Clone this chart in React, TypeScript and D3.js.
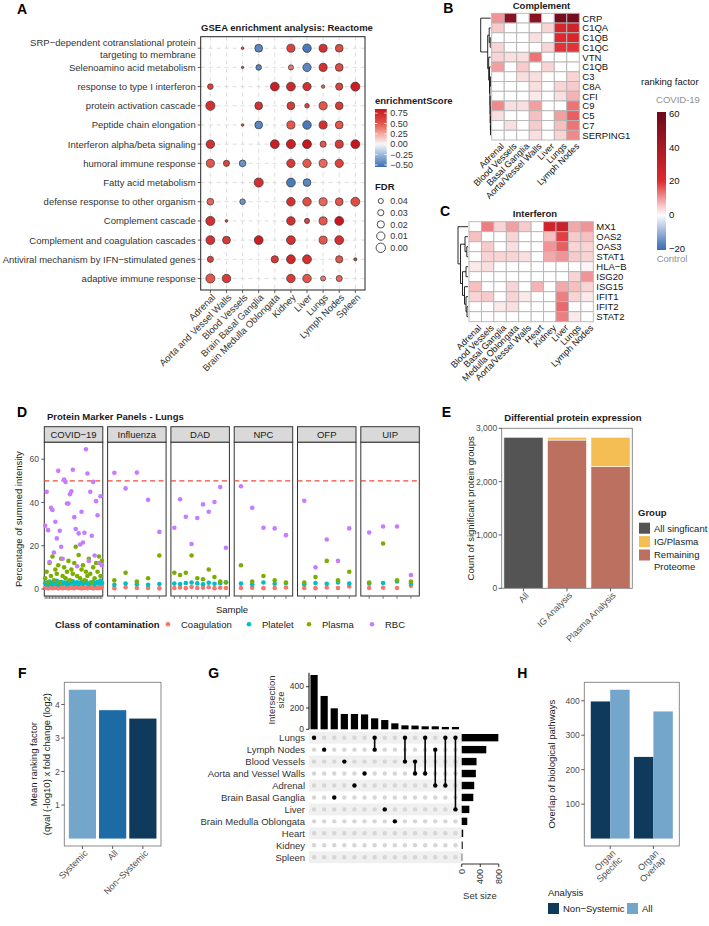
import React from "react";
import * as d3 from "d3";

const FONT = "'Liberation Sans', Arial, Helvetica, sans-serif";
const INK = "#1a1a1a";
const AX = "#333333";
const TK = "#4d4d4d";

// ================= Panel A data =================
const gseaPathways = [
  "SRP−dependent cotranslational protein|targeting to membrane",
  "Selenoamino acid metabolism",
  "response to type I interferon",
  "protein activation cascade",
  "Peptide chain elongation",
  "Interferon alpha/beta signaling",
  "humoral immune response",
  "Fatty acid metabolism",
  "defense response to other organism",
  "Complement cascade",
  "Complement and coagulation cascades",
  "Antiviral mechanism by IFN−stimulated genes",
  "adaptive immune response",
];
const gseaTissues = [
  "Adrenal", "Aorta and Vessel Walls", "Blood Vessels", "Brain Basal Ganglia",
  "Brain Medulla Oblongata", "Kidney", "Liver", "Lungs", "Lymph Nodes", "Spleen",
];
const _ = null;
const gseaES: (number | null)[][] = [
  [_, _, 0.5, -0.45, _, 0.6, -0.5, 0.7, 0.55, _],
  [_, _, 0.6, -0.45, _, 0.4, -0.45, 0.7, 0.55, _],
  [0.6, _, _, _, 0.8, 0.75, 0.7, 0.45, 0.6, 0.8],
  [0.7, _, _, 0.7, _, 0.65, 0.6, 0.5, 0.65, _],
  [_, _, 0.5, -0.45, _, 0.5, -0.5, 0.7, 0.5, _],
  [0.7, _, _, _, 0.8, 0.8, 0.85, 0.5, 0.65, 0.85],
  [0.5, 0.6, -0.4, _, _, 0.65, 0.5, 0.45, 0.6, _],
  [_, _, _, 0.7, _, -0.5, -0.45, _, _, _],
  [0.45, _, -0.4, _, _, 0.7, 0.55, 0.45, 0.5, 0.55],
  [0.7, 0.6, _, _, _, 0.7, 0.6, 0.5, 0.85, _],
  [0.7, 0.65, _, 0.8, _, 0.7, _, 0.5, 0.7, _],
  [0.6, _, _, _, 0.65, 0.75, 0.7, _, 0.5, 0.65],
  [0.5, 0.65, _, _, _, 0.65, 0.5, 0.4, 0.45, _],
];
const gseaFDR: (number | null)[][] = [
  [_, _, 0.063, 0.015, _, 0.012, 0.008, 0.012, 0.015, _],
  [_, _, 0.065, 0.035, _, 0.04, 0.01, 0.012, 0.015, _],
  [0.035, _, _, _, 0.005, 0.005, 0.01, 0.055, 0.02, 0.003],
  [0.002, _, _, 0.015, _, 0.015, 0.045, 0.012, 0.015, _],
  [_, _, 0.063, 0.015, _, 0.012, 0.008, 0.012, 0.015, _],
  [0.008, _, _, _, 0.005, 0.003, 0.005, 0.03, 0.012, 0.005],
  [0.012, 0.03, 0.025, _, _, 0.01, 0.01, 0.012, 0.01, _],
  [_, _, _, 0.002, _, 0.005, 0.015, _, _, _],
  [0.025, _, 0.035, _, _, 0.008, 0.008, 0.012, 0.015, 0.005],
  [0.003, 0.063, _, _, _, 0.008, 0.04, 0.012, 0.005, _],
  [0.005, 0.015, _, 0.005, _, 0.005, _, 0.012, 0.005, _],
  [0.03, _, _, _, 0.02, 0.005, 0.005, _, 0.02, 0.058],
  [0.003, 0.008, _, _, _, 0.008, 0.008, 0.04, 0.03, _],
];
const esTicks = [0.75, 0.5, 0.25, 0, -0.25, -0.5];
const esTickLabels = ["0.75", "0.50", "0.25", "0.00", "−0.25", "−0.50"];
const fdrKeys = [0.04, 0.03, 0.02, 0.01, 0.0];
const fdrKeyLabels = ["0.04", "0.03", "0.02", "0.01", "0.00"];

// ================= Panel B / C data =================
const complementGenes = ["CRP", "C1QA", "C1QB", "C1QC", "VTN", "C1QB", "C3", "C8A", "CFI", "C9", "C5", "C7", "SERPING1"];
const complementTissues = ["Adrenal", "Blood Vessels", "Basal Ganglia", "Aorta/Vessel Walls", "Liver", "Lungs", "Lymph Nodes"];
const complementValues = [
  [10, 50, 0, 50, 0, 57, 57],
  [5, 0, 0, 0, 4, 24, 27],
  [0, 0, 0, 3, 0, 21, 23],
  [4, 0, 0, 0, 4, 19, 19],
  [4, 3, 3, 13, 0, 0, 0],
  [9, 0, 5, 0, 4, 0, 0],
  [0, 0, 3, 3, 0, 0, 4],
  [0, 0, 0, 3, 0, 4, 5],
  [0, 0, 0, 2, 0, 3, 7],
  [11, 3, 3, 9, 0, 0, 13],
  [3, 0, 0, 6, 0, 9, 15],
  [0, 3, 0, 5, 0, 6, 13],
  [0, 0, 0, 3, 0, 4, 11],
];
type Tree = number | [number, Tree, Tree];
const complementTree: Tree = [1.0, 0, [0.3, [0.15, 1, [0.05, 2, 3]], [0.2, 4, [0.12, 5, [0.08, [0.03, 6, 7], [0.06, 8, [0.05, 9, [0.03, 10, [0.02, 11, 12]]]]]]]]];

const ifnGenes = ["MX1", "OAS2", "OAS3", "STAT1", "HLA−B", "ISG20", "ISG15", "IFIT1", "IFIT2", "STAT2"];
const ifnTissues = ["Adrenal", "Blood Vessels", "Basal Ganglia", "Medulla Oblongata", "Aorta/Vessel Walls", "Heart", "Kidney", "Liver", "Lungs", "Lymph Nodes"];
const ifnValues = [
  [0, 12, 4, 9, 5, 0, 26, 28, 8, 10],
  [6, 0, 0, 4, 0, 0, 6, 18, 5, 6],
  [0, 5, 0, 3, 0, 0, 10, 15, 4, 4],
  [0, 4, 4, 4, 3, 0, 8, 10, 5, 4],
  [2, 3, 0, 0, 0, 0, 0, 0, 0, 1],
  [0, 0, 0, 0, 0, 0, 0, 0, 4, 10],
  [6, 0, 0, 4, 0, 7, 0, 8, 6, 4],
  [4, 5, 0, 4, 2, 0, 0, 12, 4, 2],
  [0, 0, 2, 3, 0, 0, 0, 14, 0, 0],
  [0, 0, 0, 0, 0, 0, 0, 12, 2, 0],
];
const ifnTree: Tree = [1.0, 0, [0.75, [0.3, 1, [0.12, 2, 3]], [0.55, [0.2, 4, 5], [0.35, 6, [0.2, 7, [0.1, 8, 9]]]]]];
const rankTicks = [60, 40, 20, 0, -20];
const rankTickLabels = ["60", "40", "20", "0", "−20"];

// ================= Panel D data =================
const dPanels = ["COVID−19", "Influenza", "DAD", "NPC", "OFP", "UIP"];
const rbcCovid = [29.2, 44.9, 27.2, 12.5, 37.5, 36.5, 16.9, 31.1, 23.4, 54.6, 26.9, 19.5, 14, 50.6, 49.5, 39.5, 39.5, 43.8, 45.2, 55.1, 33.2, 27.7, 10.5, 25.7, 20.6, 35.7, 21.5, 26.0, 64.6, 53.4, 13, 44.9, 24.6, 49.5, 15.5, 40.6, 34.1, 12, 42.9, 11];
const plasmaCovid = [5, 8, 3, 12, 6, 15, 4, 9, 7, 11, 3, 14, 6, 10, 5, 8, 13, 4, 9, 7, 12, 19.5, 6, 15.7, 5, 9, 11, 4, 8, 6, 14, 7, 3, 10, 5, 12, 8, 15, 6, 13];
const plateletCovid = [2.5, 3, 2, 3.5, 2.8, 2.2, 3, 2.5, 3.8, 2, 2.6, 3.2, 2.4, 3, 2.7, 2.1, 3.4, 2.5, 2.9, 3.6, 2.3, 2.8, 3.1, 2.2, 2.6, 3.3, 2.4, 2.9, 3.7, 2.5, 2.2, 3, 2.6, 3.4, 2.1, 2.8, 3.2, 2.5, 3.9, 2.7];
const coagCovid = [0.5, 0.8, 0.3, 0.6, 0.9, 0.4, 0.7, 0.5, 1.0, 0.3, 0.6, 0.8, 0.4, 0.7, 0.5, 0.9, 0.3, 0.6, 0.8, 0.5, 0.4, 0.7, 1.1, 0.5, 0.6, 0.3, 0.8, 0.5, 0.7, 0.4, 0.9, 0.6, 0.5, 0.3, 0.8, 0.6, 0.4, 0.7, 0.5, 0.9];
const rbcFlu = [53.7, 46.5, 53.8, 41.2, 26.4];
const plasmaFlu = [4, 7.5, 3.5, 5, 15.5];
const plateletFlu = [2, 2.5, 2.2, 2, 2.3];
const coagFlu = [0.4, 0.8, 0.5, 0.5, 0.3];
const rbcDad = [28.3, 41.5, 33.4, 20.8, 32.8, 39.1, 35.7, 40.2, 47.1, 19.1];
const plasmaDad = [7.5, 6.5, 7.5, 15.5, 5, 4.5, 9, 5.5, 3.5, 3];
const plateletDad = [2.5, 2.3, 2.8, 3, 2.6, 2.2, 2.9, 2.4, 2.7, 3.1];
const coagDad = [0.5, 0.7, 0.4, 0.9, 0.5, 0.6, 0.8, 0.4, 0.6, 0.5];
const rbcNpc = [47.5, 37.5, 28.3, 28, 24.9];
const plasmaNpc = [11, 3.5, 6, 4, 3];
const plateletNpc = [2.5, 2.2, 3, 2.4, 2.8];
const coagNpc = [0.5, 0.6, 0.4, 0.5, 0.7];
const rbcOfp = [40.8, 10, 22.9, 13, 28];
const plasmaOfp = [3, 5.5, 13, 4, 8];
const plateletOfp = [2.2, 2.8, 2.4, 3, 2.5];
const coagOfp = [0.5, 0.4, 0.7, 0.5, 1.2];
const rbcUip = [26.1, 28.9, 28.9, 6.5];
const plasmaUip = [3, 21, 4, 3.5];
const plateletUip = [2.5, 2.8, 3.5, 2.6];
const coagUip = [0.5, 0.6, 0.5, 1.5];
const contamClasses = ["Coagulation", "Platelet", "Plasma", "RBC"];
const contamColors = ["#F8766D", "#00BFC4", "#7CAE00", "#C77CFF"];
const dYTicks = [0, 20, 40, 60];
const rbcThreshold = 50;

// ================= Panel E data =================
const deCategories = ["All", "IG Analysis", "Plasma Analysis"];
const deAllSig = [2832, 0, 0];
const deIgPlasma = [0, 52, 552];
const deRemaining = [0, 2780, 2280];
const deGroups = ["All singficant", "IG/Plasma", "Remaining|Proteome"];
const deColors = ["#545454", "#F5BE55", "#BC7060"];
const deTicks = [0, 1000, 2000, 3000];
const deTickLabels = ["0", "1,000", "2,000", "3,000"];

// ================= Panel F data =================
const fCategories = ["Systemic", "All", "Non−Systemic"];
const fValues = [4.44, 3.83, 3.58];
const fColors = ["#74A5CB", "#1C6AA6", "#0F3A5B"];
const fTicks = [1, 2, 3, 4];

// ================= Panel G data =================
const upsetSets = ["Lungs", "Lymph Nodes", "Blood Vessels", "Aorta and Vessel Walls", "Adrenal", "Brain Basal Ganglia", "Liver", "Brain Medulla Oblongata", "Heart", "Kidney", "Spleen"];
const setSizes = [790, 530, 320, 305, 270, 250, 165, 120, 32, 22, 12];
const intersections = [
  ["Lungs"], ["Lymph Nodes"], ["Brain Basal Ganglia"], ["Blood Vessels"], ["Adrenal"],
  ["Aorta and Vessel Walls"], ["Lungs", "Lymph Nodes"], ["Liver"], ["Brain Medulla Oblongata"],
  ["Lungs", "Blood Vessels"], ["Blood Vessels", "Aorta and Vessel Walls"], ["Lungs", "Aorta and Vessel Walls"],
  ["Lymph Nodes", "Adrenal"], ["Lungs", "Adrenal"], ["Lungs", "Liver"],
];
const intersectionSizes = [510, 313, 197, 144, 144, 140, 103, 87, 56, 37, 35, 28, 28, 22, 22];
const gTicks = [0, 200, 400];
const setSizeTicks = [0, 400, 800];

// ================= Panel H data =================
const hGroups = ["Organ|Specific", "Organ|Overlap"];
const hAnalyses = ["Non−Systemic", "All"];
const hNonSystemic = [398, 237];
const hAll = [432, 369];
const hColors = ["#0F3A5B", "#74A5CB"];
const hTicks = [100, 200, 300, 400];

// ================= helpers =================
const esColor = d3.scaleLinear<string>()
  .domain([-0.55, -0.25, 0, 0.25, 0.5, 0.85])
  .range(["#3b6db4", "#9ab8dc", "#f8f8f8", "#f3a89f", "#e2564b", "#c8161d"]);
const rfColor = d3.scaleLinear<string>()
  .domain([-20, 0, 20, 60])
  .range(["#3b6db5", "#ffffff", "#e0292e", "#6e0a1c"]).clamp(true);

function PanelLetter({ x, y, t }: { x: number; y: number; t: string }) {
  return <text x={x} y={y} fontSize={14} fontWeight="bold" fill="#000">{t}</text>;
}

function RotLabel({ x, y, text, fs = 9.5, fill = TK }: any) {
  const lines = String(text).split("|");
  return (
    <text transform={`translate(${x},${y}) rotate(-45)`} textAnchor="end" fontSize={fs} fill={fill}>
      {lines.map((l, i) => (
        <tspan key={i} x={0} dy={i === 0 ? "0.75em" : "1.05em"}>{l}</tspan>
      ))}
    </text>
  );
}

// ================= Panel A =================
function PanelA() {
  const L = 200.7, R = 365, T = 36.7, B = 290;
  const x = d3.scalePoint<string>().domain(gseaTissues).range([L, R]).padding(0.6);
  const y = d3.scalePoint<string>().domain(gseaPathways).range([T, B]).padding(0.6);
  const rad = d3.scaleLinear().domain([0.065, 0]).range([1.2, 4.7]);
  const dots: any[] = [];
  gseaES.forEach((row, i) => row.forEach((v, j) => {
    if (v !== null) dots.push({ cx: x(gseaTissues[j])!, cy: y(gseaPathways[i])!, es: v, fdr: gseaFDR[i][j] as number });
  }));
  const bar = { x: 375, w: 11.7, top: 109, bottom: 167 };
  const by = d3.scaleLinear().domain([-0.55, 0.85]).range([bar.bottom, bar.top]);
  const stops = d3.range(0, 1.0001, 0.05);
  const fdrY = d3.scalePoint<string>().domain(fdrKeyLabels).range([201, 247.8]);
  return (
    <g>
      <defs>
        <linearGradient id="esGrad" x1="0" y1="1" x2="0" y2="0">
          {stops.map((s, i) => <stop key={i} offset={s} stopColor={esColor(-0.55 + s * 1.4)} />)}
        </linearGradient>
      </defs>
      <PanelLetter x={17} y={13.5} t="A" />
      <text x={287} y={30.5} textAnchor="middle" fontSize={9.5} fontWeight="bold" fill={INK}>GSEA enrichment analysis: Reactome</text>
      <rect x={L} y={T} width={R - L} height={B - T} fill="#fff" />
      {gseaTissues.map((t) => (
        <line key={t} x1={x(t)} x2={x(t)} y1={T} y2={B} stroke="#cfcfcf" strokeWidth={0.7} strokeDasharray="4,4" />
      ))}
      {gseaPathways.map((p) => (
        <line key={p} x1={L} x2={R} y1={y(p)} y2={y(p)} stroke="#cfcfcf" strokeWidth={0.7} strokeDasharray="4,4" />
      ))}
      <rect x={L} y={T} width={R - L} height={B - T} fill="none" stroke="#222" strokeWidth={1} />
      {gseaPathways.map((p) => {
        const lines = p.split("|");
        const cy = y(p)!;
        return (
          <g key={p}>
            <line x1={L - 3} x2={L} y1={cy} y2={cy} stroke={AX} strokeWidth={0.8} />
            <text x={L - 5} y={cy} textAnchor="end" fontSize={9.5} fill={AX}>
              {lines.map((l, i) => (
                <tspan key={i} x={L - 5} y={cy + 3.4 + (i - (lines.length - 1) / 2) * 12}>{l}</tspan>
              ))}
            </text>
          </g>
        );
      })}
      {gseaTissues.map((t) => (
        <g key={t}>
          <line x1={x(t)} x2={x(t)} y1={B} y2={B + 3} stroke={AX} strokeWidth={0.8} />
          <RotLabel x={x(t)! + 0.5} y={B + 3} text={t} fs={9.5} fill={AX} />
        </g>
      ))}
      {dots.map((d, i) => (
        <circle key={i} cx={d.cx} cy={d.cy} r={rad(d.fdr)} fill={esColor(d.es)} stroke="#333" strokeWidth={0.7} />
      ))}
      <text x={bar.x} y={103.5} fontSize={9.5} fontWeight="bold" fill={INK}>enrichmentScore</text>
      <rect x={bar.x} y={bar.top} width={bar.w} height={bar.bottom - bar.top} fill="url(#esGrad)" />
      {esTicks.map((t, i) => (
        <g key={t}>
          <line x1={bar.x} x2={bar.x + 2.5} y1={by(t)} y2={by(t)} stroke="#fff" strokeWidth={0.8} />
          <line x1={bar.x + bar.w - 2.5} x2={bar.x + bar.w} y1={by(t)} y2={by(t)} stroke="#fff" strokeWidth={0.8} />
          <text x={bar.x + bar.w + 3.5} y={by(t) + 3.2} fontSize={9} fill={AX}>{esTickLabels[i]}</text>
        </g>
      ))}
      <text x={bar.x} y={190} fontSize={9.5} fontWeight="bold" fill={INK}>FDR</text>
      {fdrKeys.map((f, i) => (
        <g key={i}>
          <circle cx={bar.x + 5.8} cy={fdrY(fdrKeyLabels[i])} r={rad(f)} fill="#fff" stroke="#222" strokeWidth={0.8} />
          <text x={bar.x + bar.w + 3.5} y={fdrY(fdrKeyLabels[i])! + 3.2} fontSize={9} fill={AX}>{fdrKeyLabels[i]}</text>
        </g>
      ))}
    </g>
  );
}

// ================= Heatmaps =================
function dendro(node: Tree, yLeaf: (i: number) => number, xH: (h: number) => number, segs: number[][]): { x: number; y: number } {
  if (typeof node === "number") return { x: xH(0), y: yLeaf(node) };
  const [h, a, b] = node;
  const A = dendro(a, yLeaf, xH, segs);
  const Bn = dendro(b, yLeaf, xH, segs);
  const xx = xH(h);
  segs.push([xx, A.y, xx, Bn.y]);
  segs.push([xx, A.y, A.x, A.y]);
  segs.push([xx, Bn.y, Bn.x, Bn.y]);
  return { x: xx, y: (A.y + Bn.y) / 2 };
}

function Heatmap({ rows, cols, values, tree, L, R, T, B, title, titleX, titleY, id }: any) {
  const x = d3.scaleBand<string>().domain(cols.map((_: any, i: number) => String(i))).range([L, R]);
  const y = d3.scaleBand<string>().domain(rows.map((_: any, i: number) => String(i))).range([T, B]);
  const segs: number[][] = [];
  const xH = d3.scaleLinear().domain([0, 1]).range([L - 1, L - 11]);
  dendro(tree, (i) => y(String(i))! + y.bandwidth() / 2, (h) => xH(h), segs);
  return (
    <g>
      <text x={titleX} y={titleY} textAnchor="middle" fontSize={9.5} fontWeight="bold" fill={INK}>{title}</text>
      {values.map((row: number[], i: number) => row.map((v: number, j: number) => (
        <rect key={`${id}${i}-${j}`} x={x(String(j))} y={y(String(i))} width={x.bandwidth()} height={y.bandwidth()}
          fill={rfColor(v)} stroke="#b5b5b5" strokeWidth={0.9} />
      )))}
      {rows.map((r: string, i: number) => (
        <text key={i} x={R + 3} y={y(String(i))! + y.bandwidth() / 2 + 3.4} fontSize={9.5} fill="#111">{r}</text>
      ))}
      {cols.map((c: string, j: number) => (
        <RotLabel key={j} x={x(String(j))! + x.bandwidth() / 2 + 2} y={B + 2} text={c} fs={9} fill="#111" />
      ))}
      {segs.map((s, i) => (
        <line key={i} x1={s[0]} y1={s[1]} x2={s[2]} y2={s[3]} stroke="#111" strokeWidth={0.9} />
      ))}
    </g>
  );
}

function RankLegend() {
  const bx = 657, bw = 9;
  const yy = d3.scaleLinear().domain([-21, 61]).range([250, 112]);
  const stops = d3.range(0, 1.0001, 0.05);
  return (
    <g>
      <defs>
        <linearGradient id="rfGrad" x1="0" y1="1" x2="0" y2="0">
          {stops.map((s, i) => <stop key={i} offset={s} stopColor={rfColor(-21 + s * 82)} />)}
        </linearGradient>
      </defs>
      <text x={641} y={85} fontSize={9.5} fill="#111">ranking factor</text>
      <text x={678} y={103} textAnchor="middle" fontSize={9.5} fill="#8f8f8f">COVID-19</text>
      <rect x={bx} y={yy(61)} width={bw} height={yy(-21) - yy(61)} fill="url(#rfGrad)" />
      {rankTicks.map((t, i) => (
        <text key={t} x={bx + bw + 3} y={yy(t) + 3.4} fontSize={9.5} fill="#111">{rankTickLabels[i]}</text>
      ))}
      <text x={672} y={262} textAnchor="middle" fontSize={9.5} fill="#8f8f8f">Control</text>
    </g>
  );
}

// ================= Panel D =================
function PanelD() {
  const facet = d3.scaleBand<string>().domain(dPanels).range([44.3, 419.3]).paddingInner(0.076);
  const y = d3.scaleLinear().domain([-3.23, 67.8]).range([596, 442.3]);
  const stripT = 426.7, stripB = 442.3;
  const byClass = [
    [coagCovid, coagFlu, coagDad, coagNpc, coagOfp, coagUip],
    [plateletCovid, plateletFlu, plateletDad, plateletNpc, plateletOfp, plateletUip],
    [plasmaCovid, plasmaFlu, plasmaDad, plasmaNpc, plasmaOfp, plasmaUip],
    [rbcCovid, rbcFlu, rbcDad, rbcNpc, rbcOfp, rbcUip],
  ];
  const legendX = d3.scaleOrdinal<string, number>().domain(contamClasses).range([168, 249, 309, 372]);
  return (
    <g>
      <PanelLetter x={17} y={416.7} t="D" />
      <text x={47} y={420} fontSize={9.5} fontWeight="bold" fill={INK}>Protein Marker Panels - Lungs</text>
      {dPanels.map((p, pi) => {
        const x0 = facet(p)!, x1 = x0 + facet.bandwidth();
        const n = byClass[3][pi].length;
        const sx = d3.scalePoint<number>().domain(d3.range(n)).range([x0, x1]).padding(0.6);
        return (
          <g key={p}>
            <rect x={x0} y={stripT} width={x1 - x0} height={stripB - stripT} fill="#d9d9d9" stroke="#333" strokeWidth={1} />
            <text x={(x0 + x1) / 2} y={(stripT + stripB) / 2 + 3.4} textAnchor="middle" fontSize={9.5} fill="#1a1a1a">{p}</text>
            <rect x={x0} y={stripB} width={x1 - x0} height={596 - stripB} fill="#fff" stroke="#333" strokeWidth={1} />
            <line x1={x0} x2={x1} y1={y(rbcThreshold)} y2={y(rbcThreshold)} stroke="#EE4B3B" strokeWidth={1.2} strokeDasharray="5,3.5" />
            {d3.range(n).map((k) => (
              <line key={k} x1={sx(k)} x2={sx(k)} y1={596} y2={599} stroke={AX} strokeWidth={0.6} />
            ))}
            {byClass.map((cls, ci) => cls[pi].map((v, k) => (
              <circle key={`${ci}-${k}`} cx={sx(k)} cy={y(v)} r={2.3} fill={contamColors[ci]} />
            )))}
          </g>
        );
      })}
      {dYTicks.map((t) => (
        <g key={t}>
          <line x1={41.3} x2={44.3} y1={y(t)} y2={y(t)} stroke={AX} strokeWidth={0.8} />
          <text x={39} y={y(t) + 3.1} textAnchor="end" fontSize={8.5} fill={TK}>{t}</text>
        </g>
      ))}
      <text transform={`translate(21.5,${(442.3 + 596) / 2}) rotate(-90)`} textAnchor="middle" fontSize={9.5} fill={INK}>Percentage of summed intensity</text>
      <text x={232} y={612.5} textAnchor="middle" fontSize={9.5} fill={INK}>Sample</text>
      <text x={55} y={627.8} fontSize={9.5} fontWeight="bold" fill={INK}>Class of contamination</text>
      {contamClasses.map((c, i) => (
        <g key={c}>
          <circle cx={legendX(c)} cy={624.3} r={2.3} fill={contamColors[i]} />
          <text x={legendX(c) + 13} y={627.7} fontSize={9.5} fill={INK}>{c}</text>
        </g>
      ))}
    </g>
  );
}

// ================= Panel E =================
function PanelE() {
  const L = 501.7, R = 632.3, T = 428.3, B = 588.3;
  const x = d3.scaleBand<string>().domain(deCategories).range([L, R]).paddingInner(0.1).paddingOuter(0.05);
  const y = d3.scaleLinear().domain([0, 3000]).range([B, T]);
  const table = deCategories.map((c, i) => ({ cat: c, all: deAllSig[i], rem: deRemaining[i], ig: deIgPlasma[i] }));
  const stack = d3.stack<any>().keys(["all", "rem", "ig"])(table);
  const colorOf: Record<string, string> = { all: deColors[0], ig: deColors[1], rem: deColors[2] };
  return (
    <g>
      <PanelLetter x={441.7} y={416.7} t="E" />
      <text x={573} y={421} textAnchor="middle" fontSize={9.5} fontWeight="bold" fill={INK}>Differential protein expression</text>
      {stack.map((s) => s.map((d, i) => d[1] > d[0] ? (
        <rect key={`${s.key}${i}`} x={x(d.data.cat)} y={y(d[1])} width={x.bandwidth()} height={y(d[0]) - y(d[1])}
          fill={colorOf[s.key]} stroke="#fff" strokeWidth={0.6} />
      ) : null))}
      <rect x={L} y={T} width={R - L} height={B - T} fill="none" stroke="#7f7f7f" strokeWidth={0.9} />
      {deTicks.map((t, i) => (
        <g key={t}>
          <line x1={L - 3} x2={L} y1={y(t)} y2={y(t)} stroke={AX} strokeWidth={0.8} />
          <text x={L - 4.5} y={y(t) + 3.1} textAnchor="end" fontSize={8.5} fill={TK}>{deTickLabels[i]}</text>
        </g>
      ))}
      {deCategories.map((c) => (
        <g key={c}>
          <line x1={x(c)! + x.bandwidth() / 2} x2={x(c)! + x.bandwidth() / 2} y1={B} y2={B + 3} stroke={AX} strokeWidth={0.8} />
          <RotLabel x={x(c)! + x.bandwidth() / 2 + 1} y={B + 3} text={c} fs={9} fill={TK} />
        </g>
      ))}
      <text transform={`translate(473.5,${(T + B) / 2}) rotate(-90)`} textAnchor="middle" fontSize={9.5} fill={INK}>Count of significant protein groups</text>
      <text x={638} y={516} fontSize={9.5} fontWeight="bold" fill={INK}>Group</text>
      {deGroups.map((g, i) => {
        const ky = 522.7 + i * 13.4;
        const lines = g.split("|");
        return (
          <g key={g}>
            <rect x={639} y={ky} width={11} height={11} fill={deColors[i]} />
            {lines.map((l, k) => (
              <text key={k} x={654} y={ky + 8.8 + k * 11.5} fontSize={9.5} fill={INK}>{l}</text>
            ))}
          </g>
        );
      })}
    </g>
  );
}

// ================= Panel F =================
function PanelF() {
  const L = 64.3, R = 161, T = 682.3, B = 846;
  const x = d3.scaleBand<string>().domain(fCategories).range([L, R]).paddingInner(0.1).paddingOuter(0.15);
  const mx = d3.max(fValues)!;
  const y = d3.scaleLinear().domain([-0.05 * mx, 1.05 * mx]).range([B, T]);
  return (
    <g>
      <PanelLetter x={18} y={678} t="F" />
      {fCategories.map((c, i) => (
        <rect key={c} x={x(c)} y={y(fValues[i])} width={x.bandwidth()} height={y(0) - y(fValues[i])} fill={fColors[i]} />
      ))}
      <rect x={L} y={T} width={R - L} height={B - T} fill="none" stroke="#7f7f7f" strokeWidth={0.9} />
      {fTicks.map((t) => (
        <g key={t}>
          <line x1={L - 3} x2={L} y1={y(t)} y2={y(t)} stroke={AX} strokeWidth={0.8} />
          <text x={L - 4.5} y={y(t) + 3.1} textAnchor="end" fontSize={8.5} fill={TK}>{t}</text>
        </g>
      ))}
      {fCategories.map((c) => (
        <g key={c}>
          <line x1={x(c)! + x.bandwidth() / 2} x2={x(c)! + x.bandwidth() / 2} y1={B} y2={B + 3} stroke={AX} strokeWidth={0.8} />
          <RotLabel x={x(c)! + x.bandwidth() / 2 + 1} y={B + 3} text={c} fs={9} fill={TK} />
        </g>
      ))}
      <text transform={`translate(37,${(T + B) / 2}) rotate(-90)`} textAnchor="middle" fontSize={9.5} fill={INK}>Mean ranking factor</text>
      <text transform={`translate(49.5,${(T + B) / 2}) rotate(-90)`} textAnchor="middle" fontSize={9.5} fill={INK}>(qval (-log10) x fold change (log2)</text>
    </g>
  );
}

// ================= Panel G =================
function PanelG() {
  const xs = d3.scalePoint<number>().domain(d3.range(intersectionSizes.length)).range([309, 460.5]).padding(0.5);
  const yBar = d3.scaleLinear().domain([0, 400]).range([729.3, 686.7]);
  const rowY = d3.scaleBand<string>().domain(upsetSets).range([731.7, 863.2]);
  const sx = d3.scaleLinear().domain([0, 800]).range([461.7, 498.8]);
  const cy = (s: string) => rowY(s)! + rowY.bandwidth() / 2;
  return (
    <g>
      <PanelLetter x={208.3} y={678} t="G" />
      {upsetSets.map((s, i) => i % 2 === 0 ? (
        <rect key={s} x={309} y={rowY(s)} width={152.5} height={rowY.bandwidth()} fill="#f0f0f0" />
      ) : null)}
      {intersectionSizes.map((v, i) => (
        <rect key={i} x={xs(i)! - 3.6} y={yBar(v)} width={7.2} height={yBar(0) - yBar(v)} fill="#000" />
      ))}
      <line x1={309} x2={309} y1={yBar(530)} y2={yBar(0)} stroke="#000" strokeWidth={1} />
      {gTicks.map((t) => (
        <g key={t}>
          <line x1={306} x2={309} y1={yBar(t)} y2={yBar(t)} stroke="#000" strokeWidth={0.8} />
          <text x={304} y={yBar(t) + 2.6} textAnchor="end" fontSize={8.5} fill={AX}>{t}</text>
        </g>
      ))}
      <text transform={`translate(275,${700}) rotate(-90)`} textAnchor="middle" fontSize={9.5} fill={AX}>Intersection</text>
      <text transform={`translate(284,${700}) rotate(-90)`} textAnchor="middle" fontSize={9.5} fill={AX}>size</text>
      {upsetSets.map((s) => (
        <text key={s} x={305} y={cy(s) + 3.4} textAnchor="end" fontSize={9.5} fill={AX}>{s}</text>
      ))}
      {intersections.map((sets, i) => (
        <g key={i}>
          {upsetSets.map((s) => (
            <circle key={s} cx={xs(i)} cy={cy(s)} r={2.2} fill={sets.includes(s) ? "#000" : "#d6d6d6"} />
          ))}
          {sets.length > 1 ? (
            <line x1={xs(i)} x2={xs(i)} y1={d3.min(sets, cy)} y2={d3.max(sets, cy)} stroke="#000" strokeWidth={1.6} />
          ) : null}
        </g>
      ))}
      {upsetSets.map((s, i) => (
        <rect key={s} x={sx(0)} y={cy(s) - 3.7} width={sx(setSizes[i]) - sx(0)} height={7.4} fill="#000" />
      ))}
      <line x1={sx(0)} x2={sx(800)} y1={864} y2={864} stroke="#000" strokeWidth={0.8} />
      {setSizeTicks.map((t) => (
        <g key={t}>
          <line x1={sx(t)} x2={sx(t)} y1={864} y2={867} stroke="#000" strokeWidth={0.8} />
          <text transform={`translate(${sx(t)},${869}) rotate(-90)`} textAnchor="end" dy="0.35em" fontSize={9} fill={AX}>{t}</text>
        </g>
      ))}
      <text x={480} y={899} textAnchor="middle" fontSize={9.5} fill={AX}>Set size</text>
    </g>
  );
}

// ================= Panel H =================
function PanelH() {
  const L = 584.3, R = 679.3, T = 682.3, B = 846;
  const x0 = d3.scaleBand<string>().domain(hGroups).range([L, R]).paddingInner(0.1).paddingOuter(0.15);
  const x1 = d3.scaleBand<string>().domain(hAnalyses).range([0, x0.bandwidth()]);
  const mx = d3.max([...hNonSystemic, ...hAll])!;
  const y = d3.scaleLinear().domain([-0.05 * mx, 1.05 * mx]).range([B, T]);
  const series = [hNonSystemic, hAll];
  return (
    <g>
      <PanelLetter x={517.3} y={678} t="H" />
      {hGroups.map((g, gi) => hAnalyses.map((a, ai) => (
        <rect key={`${g}${a}`} x={x0(g)! + x1(a)!} y={y(series[ai][gi])} width={x1.bandwidth()} height={y(0) - y(series[ai][gi])} fill={hColors[ai]} />
      )))}
      <rect x={L} y={T} width={R - L} height={B - T} fill="none" stroke="#7f7f7f" strokeWidth={0.9} />
      {hTicks.map((t) => (
        <g key={t}>
          <line x1={L - 3} x2={L} y1={y(t)} y2={y(t)} stroke={AX} strokeWidth={0.8} />
          <text x={L - 4.5} y={y(t) + 3.1} textAnchor="end" fontSize={8.5} fill={TK}>{t}</text>
        </g>
      ))}
      {hGroups.map((g) => (
        <g key={g}>
          <line x1={x0(g)! + x0.bandwidth() / 2} x2={x0(g)! + x0.bandwidth() / 2} y1={B} y2={B + 3} stroke={AX} strokeWidth={0.8} />
          <RotLabel x={x0(g)! + x0.bandwidth() / 2 + 1} y={B + 3} text={g} fs={9} fill={TK} />
        </g>
      ))}
      <text transform={`translate(555,${(T + B) / 2}) rotate(-90)`} textAnchor="middle" fontSize={9.5} fill={INK}>Overlap of biological pathways</text>
      <text x={548} y={896} fontSize={9.5} fill={INK}>Analysis</text>
      {hAnalyses.map((a, i) => {
        const kx = i === 0 ? 548 : 627;
        return (
          <g key={a}>
            <rect x={kx} y={903} width={11} height={11} fill={hColors[i]} />
            <text x={kx + 15} y={912} fontSize={9.5} fill={INK}>{a}</text>
          </g>
        );
      })}
    </g>
  );
}

export default function App() {
  return (
    <svg width={709} height={926} viewBox="0 0 709 926"
      style={{ position: "absolute", left: 0, top: 0, display: "block", fontFamily: FONT, background: "#fff" }}
      fontFamily={FONT}>
      <rect x={0} y={0} width={709} height={926} fill="#fff" />
      <PanelA />
      <PanelLetter x={443.3} y={12.5} t="B" />
      <Heatmap id="b" rows={complementGenes} cols={complementTissues} values={complementValues} tree={complementTree}
        L={491.7} R={579.3} T={13.3} B={140} title="Complement" titleX={541.5} titleY={9} />
      <PanelLetter x={440} y={216} t="C" />
      <Heatmap id="c" rows={ifnGenes} cols={ifnTissues} values={ifnValues} tree={ifnTree}
        L={469} R={593.3} T={221.7} B={321.7} title="Interferon" titleX={535} titleY={216.5} />
      <RankLegend />
      <PanelD />
      <PanelE />
      <PanelF />
      <PanelG />
      <PanelH />
    </svg>
  );
}
